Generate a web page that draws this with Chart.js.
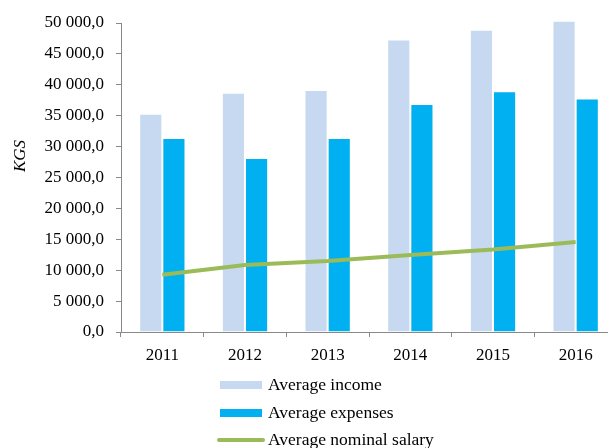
<!DOCTYPE html>
<html><head><meta charset="utf-8">
<script src="https://cdn.jsdelivr.net/npm/chart.js@4/dist/chart.umd.min.js"></script>
<style>html,body{margin:0;padding:0;background:#fff;overflow:hidden;width:608px;height:448px}#wrap{width:620px;height:448px}</style>
</head><body><div id="wrap"><canvas id="c" width="620" height="448"></canvas></div>
<script>
const years = ['2011','2012','2013','2014','2015','2016'];
const incomeName = 'Average income';
const expensesName = 'Average expenses';
const salaryName = 'Average nominal salary';
const income = [35300, 38700, 39150, 47350, 48900, 50350];
const expenses = [31400, 28150, 31400, 36900, 38950, 37800];
const salary = [9250, 10850, 11500, 12450, 13350, 14550];
const yTitle = 'KGS';
const FONT = "'Liberation Serif', 'Times New Roman', serif";

function fmt(v){
  const s = Math.round(v).toString().replace(/\B(?=(\d{3})+(?!\d))/g, ' ');
  return s + ',0';
}

const customPlugin = {
  id: 'custom',
  afterDraw(chart){
    const ctx = chart.ctx;
    ctx.save();
    ctx.translate(21, 156);
    ctx.rotate(-Math.PI/2);
    ctx.font = 'italic 17px ' + FONT;
    ctx.fillStyle = '#000';
    ctx.textAlign = 'center';
    ctx.textBaseline = 'middle';
    ctx.fillText(yTitle, 0, 0);
    ctx.restore();
    ctx.save();
    ctx.font = '17.5px ' + FONT;
    ctx.textBaseline = 'middle';
    ctx.textAlign = 'left';
    const ds = chart.data.datasets;
    const rows = [385, 413, 440];
    const order = [1, 2, 0];
    order.forEach((idx, i) => {
      const d = ds[idx];
      const y = rows[i];
      if (d.type === 'line') {
        ctx.strokeStyle = d.borderColor;
        ctx.lineWidth = 4;
        ctx.lineCap = 'round';
        ctx.beginPath(); ctx.moveTo(219, y); ctx.lineTo(263, y); ctx.stroke();
      } else {
        ctx.fillStyle = d.backgroundColor;
        ctx.fillRect(220, y - 4, 42, 8);
      }
      ctx.fillStyle = '#000';
      ctx.fillText(d.label, 268, y);
    });
    ctx.restore();
  }
};

new Chart(document.getElementById('c'), {
  data: {
    labels: years,
    datasets: [
      { type: 'line', label: salaryName, data: salary, borderColor: '#9BBB59', backgroundColor: '#9BBB59', borderWidth: 4, pointRadius: 0, tension: 0, order: 0, clip: false },
      { type: 'bar', label: incomeName, data: income, backgroundColor: '#C6D9F1', borderColor: '#ffffff', borderWidth: 1, categoryPercentage: 0.56, barPercentage: 1, order: 1, clip: false },
      { type: 'bar', label: expensesName, data: expenses, backgroundColor: '#00B0F0', borderColor: '#ffffff', borderWidth: 1, categoryPercentage: 0.56, barPercentage: 1, order: 2, clip: false }
    ]
  },
  options: {
    responsive: false,
    animation: false,
    devicePixelRatio: 1,
    layout: { padding: { top: 23, right: 3, left: 0, bottom: 0 } },
    plugins: { legend: { display: false }, tooltip: { enabled: false } },
    scales: {
      x: {
        grid: { display: true, drawOnChartArea: false, drawTicks: true, tickLength: 5, color: '#898989', offset: true },
        border: { display: true, color: '#898989', width: 1 },
        ticks: { color: '#000', font: { family: FONT, size: 17 }, padding: 8, maxRotation: 0 },
        afterFit(s){ s.height = 116; }
      },
      y: {
        min: 0, max: 50000,
        grid: { display: true, drawOnChartArea: false, drawTicks: true, tickLength: 5, color: '#898989' },
        border: { display: true, color: '#898989', width: 1 },
        ticks: { stepSize: 5000, color: '#000', font: { family: FONT, size: 17 }, padding: 12, callback: v => fmt(v) },
        afterFit(s){ s.width = 121; }
      }
    }
  },
  plugins: [customPlugin]
});
</script>
</body></html>
